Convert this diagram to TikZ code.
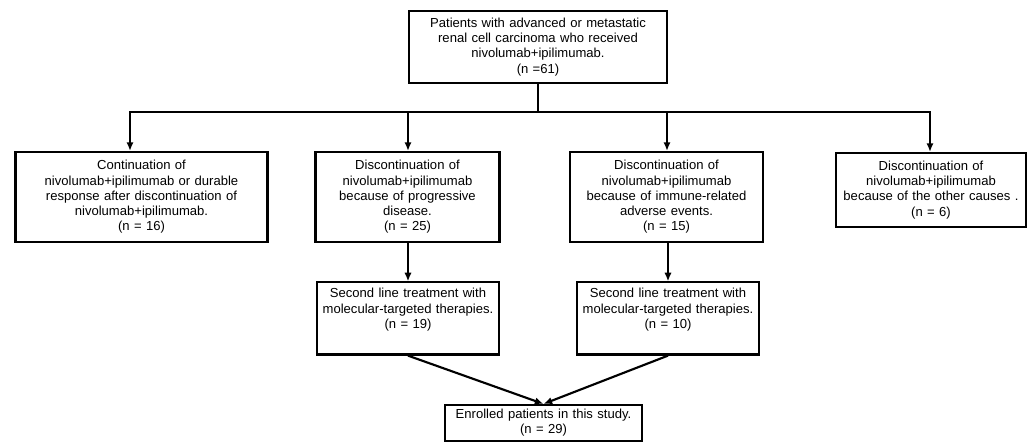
\documentclass[tikz,border=0pt]{standalone}
\usepackage{fontspec}
\setmainfont{Liberation Sans}
\usetikzlibrary{arrows.meta}

\tikzset{
  flowbox/.style={draw, line width=1.6pt, align=center, inner sep=3pt,
    font=\fontsize{9.8}{11.4}\selectfont},
  flowline/.style={line width=1.6pt},
  flowarrow/.style={line width=1.6pt, -{Latex[length=6.5pt,width=5.5pt]}}
}

\begin{document}
\begin{tikzpicture}[x=0.75pt, y=-0.75pt]
\useasboundingbox (0,0) rectangle (1033,445);

% Caixa inicial
\node[flowbox, text width=187pt, minimum height=54pt] (top) at (538,47)
  {Patients with advanced or metastatic\\renal cell carcinoma who received\\nivolumab+ipilimumab.\\(n =61)};

% Primeira linha de caixas
\node[flowbox, text width=183pt, minimum height=67.5pt] (cont) at (141.5,197)
  {Continuation of\\nivolumab+ipilimumab or durable\\response after discontinuation of\\nivolumab+ipilimumab.\\(n = 16)};
\node[flowbox, text width=132pt, minimum height=67.5pt] (prog) at (407.5,197)
  {Discontinuation of\\nivolumab+ipilimumab\\because of progressive\\disease.\\(n = 25)};
\node[flowbox, text width=139pt, minimum height=67.5pt] (irae) at (666.5,197)
  {Discontinuation of\\nivolumab+ipilimumab\\because of immune-related\\adverse events.\\(n = 15)};
\node[flowbox, text width=137pt, minimum height=55.5pt] (other) at (931,190)
  {Discontinuation of\\nivolumab+ipilimumab\\because of the other causes .\\(n = 6)};

% Segunda linha (texto no topo)
\node[flowbox, text width=131pt, inner ysep=4.5pt, text depth=38pt] (secA) at (408,318.5)
  {Second line treatment with\\molecular-targeted therapies.\\(n = 19)};
\node[flowbox, text width=131pt, inner ysep=4.5pt, text depth=38pt] (secB) at (668,318.5)
  {Second line treatment with\\molecular-targeted therapies.\\(n = 10)};

% Caixa final
\node[flowbox, text width=142pt, minimum height=27pt] (enrol) at (543.5,423)
  {Enrolled patients in this study.\\(n = 29)};

% Ramificacao
\coordinate (split) at (538,112);
\coordinate (b1) at (130,112);
\coordinate (b2) at (408,112);
\coordinate (b3) at (667,112);
\coordinate (b4) at (930,112);
\draw[flowline] (top.south) -- (split);
\draw[flowarrow] (split) -| (b1 |- cont.north);
\draw[flowarrow] (split) -| (b2 |- prog.north);
\draw[flowarrow] (split) -| (b3 |- irae.north);
\draw[flowarrow] (split) -| (b4 |- other.north);

% Setas para baixo
\draw[flowarrow] (prog.south -| secA) -- (secA.north);
\draw[flowarrow] (irae.south -| secB) -- (secB.north);
\draw[flowarrow] (secA.south) -- (enrol.north);
\draw[flowarrow] (secB.south) -- (enrol.north);

\end{tikzpicture}
\end{document}
